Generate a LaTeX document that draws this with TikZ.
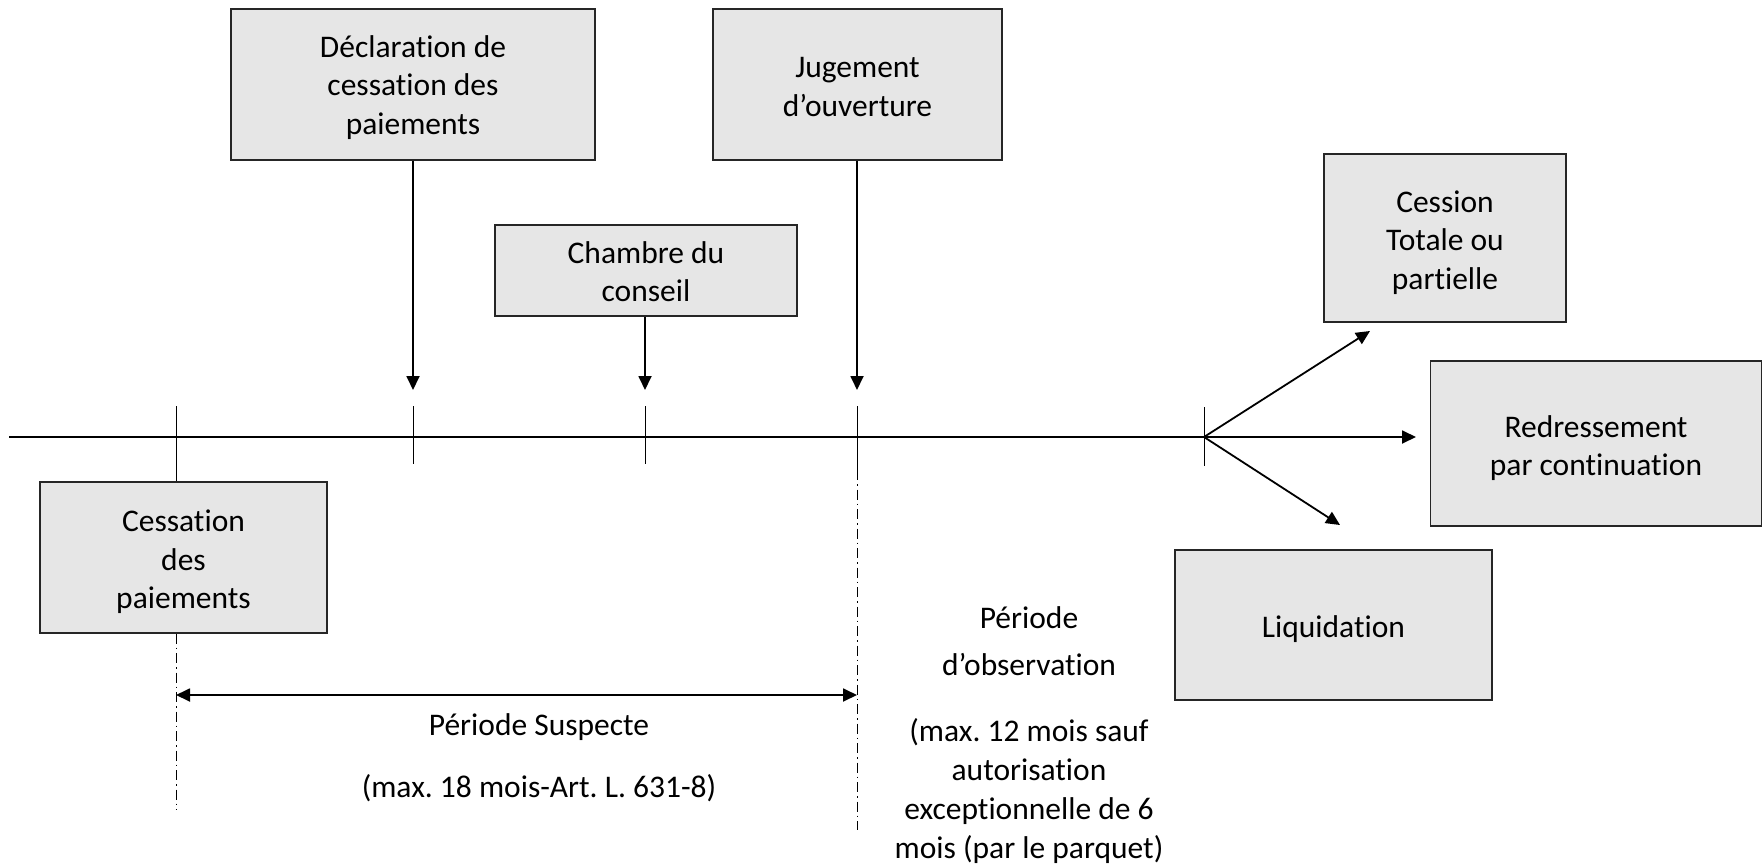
\documentclass[tikz,border=0pt]{standalone}
\usepackage{fontspec}
\setmainfont{Carlito}[Ligatures={CommonOff,ContextualOff}]
\usetikzlibrary{arrows.meta}
\definecolor{boxgray}{HTML}{E6E6E6}
\newcommand\bxs{\rule{0pt}{31pt}}
\frenchspacing
\begin{document}
\begin{tikzpicture}[x=1pt,y=-1pt,
 box/.style={draw=black!85, line width=1.3pt, fill=boxgray, align=center, inner sep=0pt,
   font=\fontsize{31.5}{38.5}\selectfont},
 txt/.style={align=center, inner sep=0pt, font=\fontsize{31.5}{39}\selectfont},
 axisline/.style={line width=1.6pt},
 tickline/.style={line width=1pt},
 arr/.style={line width=1.8pt, -{Triangle[length=14pt,width=13pt]}},
 darr/.style={line width=1.8pt, {Triangle[length=14pt,width=13pt]}-{Triangle[length=14pt,width=13pt]}},
 dd/.style={line width=0.9pt, dash pattern=on 10pt off 4pt on 1.5pt off 4pt}]
\useasboundingbox (0,0) rectangle (1763,864);

% boxes
\node[box, minimum width=364pt, minimum height=151pt] (decl) at (413,84.5) {\rule{0pt}{28pt}Déclaration de\\cessation des\\paiements};
\node[box, minimum width=289pt, minimum height=151pt] (jug) at (857.5,84.5) {\rule{0pt}{25pt}Jugement\\d’ouverture};
\node[box, minimum width=302pt, minimum height=91pt] (chambre) at (646,270.5) {\rule{0pt}{24pt}Chambre du\\conseil};
\node[box, minimum width=242pt, minimum height=168pt] (cession) at (1445,238) {\bxs Cession\\Totale ou\\partielle};
\node[box, minimum width=331pt, minimum height=165pt] (redr) at (1596,443.5) {\bxs Redressement\\par continuation};
\node[box, minimum width=287pt, minimum height=151pt] (cess) at (183.5,557.5) {\bxs Cessation\\des\\paiements};
\node[box, minimum width=317pt, minimum height=150pt] (liq) at (1333.5,625) {\bxs Liquidation};

% texts
\node[txt] (ps) at (539,727) {Période Suspecte};
\node[txt] (ps2) at (539,788) {(max. 18 mois-Art. L. 631-8)};
\node[txt, font=\fontsize{31.5}{47}\selectfont] (po) at (1029,641.5) {Période\\d’observation};
\node[txt] (po2) at (1029,791) {(max. 12 mois sauf\\autorisation\\exceptionnelle de 6\\mois (par le parquet)};

% axis coordinates
\coordinate (start) at (9,437);
\coordinate (t1) at (176,437);
\coordinate (t2) at (413,437);
\coordinate (t3) at (645,437);
\coordinate (t4) at (857,437);
\coordinate (br) at (1204,437);
\coordinate (t1top) at (176,406);
\coordinate (t2top) at (413,406);
\coordinate (t2bot) at (413,464);
\coordinate (t3top) at (645,406);
\coordinate (t3bot) at (645,464);
\coordinate (t4top) at (857,406);
\coordinate (t4mid) at (857,470);
\coordinate (t4bot) at (857,830);
\coordinate (t1bot) at (176,810);
\coordinate (brtop) at (1204,407);
\coordinate (brbot) at (1204,466);
\coordinate (a2) at (413,390);
\coordinate (a3) at (645,390);
\coordinate (a4) at (857,390);
\coordinate (ac) at (1370,331);
\coordinate (ar) at (1416,437);
\coordinate (al) at (1340,525);
\coordinate (dl) at (176,695);
\coordinate (dr) at (857,695);

% axis
\draw[axisline] (start) -- (br);
\draw[tickline] (t1top) -- (t1 |- cess.north);
\draw[dd] (t1 |- cess.south) -- (t1bot);
\draw[tickline] (t2top) -- (t2bot);
\draw[tickline] (t3top) -- (t3bot);
\draw[tickline] (t4top) -- (t4mid);
\draw[dd] (t4mid) -- (t4bot);
\draw[tickline] (brtop) -- (brbot);

% arrows
\draw[arr] (decl.south) -- (a2);
\draw[arr] (chambre.south -| a3) -- (a3);
\draw[arr] (jug.south -| a4) -- (a4);
\draw[arr] (br) -- (ac);
\draw[arr] (br) -- (ar);
\draw[arr] (br) -- (al);
\draw[darr] (dl) -- (dr);
\end{tikzpicture}
\end{document}
